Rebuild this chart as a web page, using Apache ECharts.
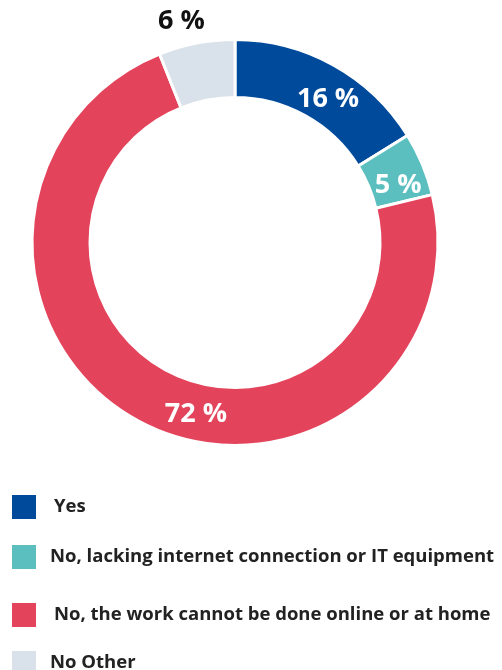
<!DOCTYPE html>
<html lang="en">
<head>
    <meta charset="UTF-8">
    <title>Telework</title>
    <script src="https://cdn.jsdelivr.net/npm/echarts@6/dist/echarts.min.js"></script>
    <style>
        html, body { margin: 0; padding: 0; background: #fff; }
    </style>
</head>
<body>
<div id="main" style="width: 502px; height: 670px;"></div>
<script type="text/javascript">
// data
var categories = ['Yes', 'No, lacking internet connection or IT equipment',
    'No, the work cannot be done online or at home', 'No Other'];
var values = [16, 5, 72, 6];
var colors = ['#004a9b', '#5abfbe', '#e3445c', '#d9e1eb'];
// label nudges (inside labels), 6 % sits above the ring
var labelOffsets = [[7, 11], [0, 11], [42, 14], [-20, -47]];
var labelColors = ['#fff', '#fff', '#fff', '#111'];

var font = '"Open Sans", "Noto Sans", sans-serif';

var pieData = [];
for (var i = 0; i < values.length; i++) {
    pieData.push({
        name: categories[i],
        value: values[i],
        itemStyle: { color: colors[i] },
        label: { offset: labelOffsets[i], color: labelColors[i] }
    });
}

// one legend per row, rows are not evenly spaced in the original
var legendTops = [493, 543, 601, 649];
var legends = [];
for (var j = 0; j < categories.length; j++) {
    legends.push({
        data: [categories[j]],
        left: 10,
        top: legendTops[j],
        padding: 0,
        icon: 'rect',
        itemWidth: 26,
        itemHeight: 26,
        selectedMode: false,
        textStyle: {
            fontFamily: font,
            fontWeight: 'bold',
            fontSize: 18.5,
            color: '#222',
            padding: [0, 0, 0, j == 0 || j == 2 ? 12 : 8]
        }
    });
}

var myChart = echarts.init(document.getElementById('main'));
var option = {
    animation: false,
    legend: legends,
    series: [{
        type: 'pie',
        center: [235, 242.5],
        radius: [145, 203],
        startAngle: 90,
        clockwise: true,
        itemStyle: { borderColor: '#fff', borderWidth: 3 },
        label: {
            show: true,
            position: 'inside',
            formatter: '{c} %',
            fontFamily: font,
            fontWeight: 'bold',
            fontSize: 27
        },
        labelLine: { show: false },
        emphasis: { disabled: true },
        data: pieData
    }]
};
myChart.setOption(option);
</script>
</body>
</html>
